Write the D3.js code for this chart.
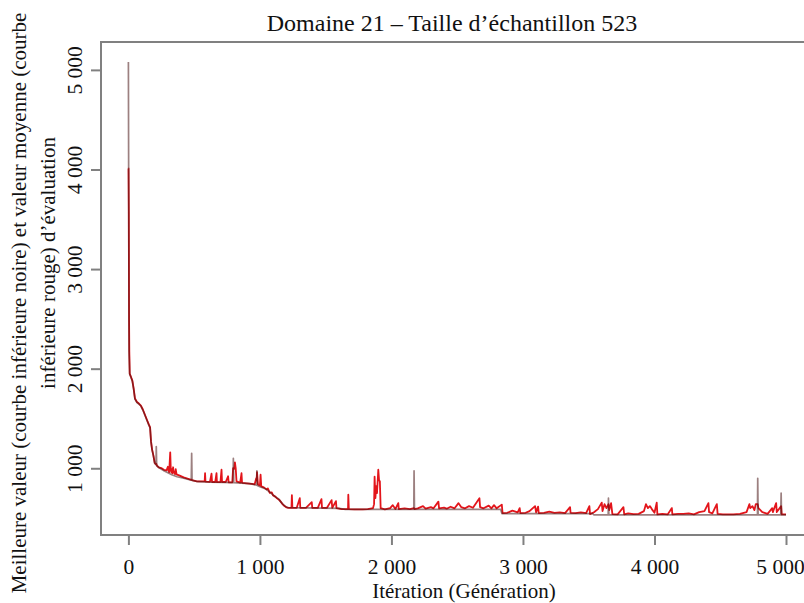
<!DOCTYPE html>
<html>
<head>
<meta charset="utf-8">
<script src="https://cdn.jsdelivr.net/npm/d3@7"></script>
<style>
  html, body { margin: 0; padding: 0; background: #fff; }
  svg text { font-family: "Liberation Serif", "Times New Roman", serif; fill: #111; }
</style>
</head>
<body>
<script>
// Iteration ticks and evaluation ticks
const xTicks = [0, 1000, 2000, 3000, 4000, 5000];
const yTicks = [1000, 2000, 3000, 4000, 5000];

// Best evaluation per generation (lower black curve)
const bestIter = [0, 5, 10, 20, 30, 40, 50, 65, 80, 95, 110, 125, 140, 155, 165, 172, 180, 190, 200, 210, 212, 215,
  240, 270, 300, 330, 370, 420, 478, 481, 484, 530, 620, 720, 796, 798, 801, 860, 920, 960, 975, 977, 980,
  1000, 1040, 1080, 1110, 1140, 1170, 1190, 1210, 1600, 1650, 2170, 2172, 2175, 2830, 2840, 3530, 3540,
  3648, 3650, 3653, 4783, 4785, 4788, 4960, 4963, 4966, 5000];
const bestVal = [5080, 2170, 1945, 1912, 1875, 1795, 1695, 1660, 1645, 1625, 1585, 1535, 1485, 1435, 1405, 1265, 1185, 1125, 1050, 1035, 1218, 1025,
  1000, 975, 955, 935, 915, 900, 880, 1150, 878, 865, 860, 858, 855, 1100, 855, 850, 845, 835, 830, 975, 828,
  815, 795, 755, 720, 695, 645, 620, 605, 598, 588, 588, 975, 588, 588, 545, 545, 532,
  532, 700, 532, 532, 900, 532, 532, 750, 532, 532];

// Mean evaluation per generation (lower red curve)
const meanIter = [0, 1, 3, 5, 7, 10, 20, 30, 40, 50, 65, 80, 95, 110, 125, 140, 155, 165, 172, 180, 190, 200,
  208, 212, 216, 230, 250, 270, 290, 300, 305, 310, 318, 322, 326, 330, 335, 340, 345, 350, 355, 360, 365, 370, 390, 420, 450,
  478, 481, 484, 520, 560, 580, 583, 586, 620, 632, 636, 660, 670, 673, 700, 708, 712, 740, 758, 762, 790,
  796, 800, 805, 810, 816, 822, 850, 860, 864, 900, 940, 960, 972, 975, 978, 985, 1000, 1005, 1010,
  1030, 1050, 1060, 1075, 1090, 1100, 1115, 1130, 1150, 1170, 1185, 1200, 1220, 1240, 1243, 1247, 1280,
  1303, 1307, 1350, 1394, 1398, 1440, 1468, 1472, 1510, 1545, 1550, 1578, 1582, 1620, 1670, 1672, 1676,
  1720, 1780, 1820, 1860, 1868, 1872, 1878, 1884, 1890, 1895, 1900, 1906, 1912, 1918, 1950, 1990, 2010,
  2030, 2052, 2056, 2100, 2140, 2172, 2175, 2200, 2240, 2260, 2300, 2320, 2357, 2362, 2400, 2420, 2450,
  2480, 2510, 2530, 2560, 2590, 2620, 2669, 2674, 2700, 2740, 2760, 2780, 2800, 2839, 2845, 2880, 2920,
  2960, 2975, 2980, 3020, 3050, 3092, 3100, 3115, 3120, 3160, 3200, 3240, 3280, 3320, 3358, 3362, 3400,
  3440, 3480, 3505, 3510, 3540, 3570, 3599, 3605, 3620, 3635, 3650, 3656, 3670, 3680, 3720, 3764, 3770,
  3800, 3840, 3880, 3920, 3935, 3950, 3965, 3980, 4000, 4017, 4022, 4060, 4100, 4132, 4136, 4180, 4220,
  4260, 4300, 4340, 4380, 4410, 4415, 4440, 4474, 4480, 4520, 4560, 4600, 4650, 4700, 4722, 4728, 4745,
  4760, 4770, 4785, 4790, 4820, 4860, 4895, 4900, 4925, 4930, 4963, 4967, 5000];
const meanVal = [4010, 4010, 3580, 2500, 2170, 1950, 1916, 1880, 1800, 1700, 1665, 1650, 1630, 1590, 1540, 1490, 1440, 1410, 1270, 1190, 1130, 1055,
  1040, 1045, 1030, 1010, 1002, 985, 980, 1015, 975, 960, 1160, 1000, 960, 990, 950, 1010, 955, 965, 940, 990, 945, 936, 926, 908, 895,
  884, 886, 880, 869, 868, 868, 950, 866, 863, 945, 862, 862, 950, 860, 862, 985, 862, 862, 920, 859, 859,
  1000, 990, 1000, 1060, 1000, 868, 856, 950, 854, 849, 844, 839, 900, 880, 960, 838, 828, 935, 818,
  808, 788, 798, 753, 758, 728, 718, 698, 678, 643, 623, 608, 603, 603, 730, 603, 603,
  700, 603, 603, 660, 603, 603, 690, 603, 603, 680, 603, 670, 600, 590, 590, 735, 590,
  588, 588, 590, 600, 640, 915, 700, 820, 750, 860, 985, 880, 870, 600, 588, 600, 630,
  590, 650, 590, 598, 590, 600, 590, 598, 620, 594, 610, 598, 665, 598, 604, 594, 614,
  598, 650, 610, 598, 620, 604, 700, 610, 598, 625, 598, 630, 598, 635, 549, 553, 575,
  558, 600, 549, 553, 570, 620, 558, 615, 549, 553, 565, 553, 558, 549, 610, 553, 549,
  558, 549, 620, 540, 558, 590, 655, 570, 640, 600, 640, 580, 650, 540, 537, 610, 537,
  548, 540, 542, 570, 640, 600, 620, 590, 553, 655, 537, 542, 537, 600, 537, 542, 542,
  548, 537, 560, 570, 650, 560, 548, 640, 542, 537, 537, 537, 542, 560, 640, 600, 620,
  580, 640, 640, 600, 560, 542, 600, 560, 650, 560, 620, 537, 537];

const W = 804, H = 603;
const plot = { left: 101, top: 42, right: 812, bottom: 535 };

const svg = d3.select("body").append("svg")
  .attr("width", W).attr("height", H);

const x = d3.scaleLinear().domain([0, 5000]).range([128.4, 786]);
const y = d3.scaleLinear().domain([330, 5280]).range([plot.bottom, plot.top]);

const fmt = v => d3.format(",")(v).replace(/,/g, "\u00a0");

const best = bestIter.map((it, i) => [it, bestVal[i]]);
const mean = meanIter.map((it, i) => [it, meanVal[i]]);
const line = d3.line().x(d => x(d[0])).y(d => y(d[1]));

// Mean curve (red)
svg.append("path").datum(mean)
  .attr("d", line)
  .attr("fill", "none")
  .attr("stroke", "#e3151b")
  .attr("stroke-width", 1.8)
  .attr("stroke-linejoin", "round");

// Best curve (black, translucent so the mean shows through)
svg.append("path").datum(best)
  .attr("d", line)
  .attr("fill", "none")
  .attr("stroke", "#4a1818")
  .attr("stroke-opacity", 0.55)
  .attr("stroke-width", 1.7)
  .attr("stroke-linejoin", "round");

// Plot frame
svg.append("rect")
  .attr("x", plot.left).attr("y", plot.top)
  .attr("width", plot.right - plot.left).attr("height", plot.bottom - plot.top)
  .attr("fill", "none").attr("stroke", "#808080").attr("stroke-width", 2);

// Bottom axis
const xAxis = svg.append("g")
  .attr("transform", `translate(0,${plot.bottom})`)
  .call(d3.axisBottom(x).tickValues(xTicks).tickSize(10).tickPadding(22).tickFormat(fmt));
xAxis.select(".domain").remove();
xAxis.selectAll(".tick line").attr("stroke", "#808080").attr("stroke-width", 2);
xAxis.selectAll(".tick text").attr("font-size", 21.5).attr("fill", "#111")
  .style("font-family", "'Liberation Serif', serif")
  .attr("dy", "0.33em")
  .attr("dx", d => d === 5000 ? -6 : 0);

// Left axis
const yAxis = svg.append("g")
  .attr("transform", `translate(${plot.left},0)`)
  .call(d3.axisLeft(y).tickValues(yTicks).tickSize(10).tickFormat(fmt));
yAxis.select(".domain").remove();
yAxis.selectAll(".tick line").attr("stroke", "#808080").attr("stroke-width", 2);
yAxis.selectAll(".tick text")
  .attr("font-size", 21.5).attr("fill", "#111")
  .style("font-family", "'Liberation Serif', serif")
  .attr("x", null).attr("dy", null)
  .attr("text-anchor", "middle")
  .attr("transform", "translate(-19,0) rotate(-90)");

// Title
svg.append("text")
  .attr("x", 452).attr("y", 31)
  .attr("text-anchor", "middle").attr("font-size", 24)
  .text("Domaine 21 \u2013 Taille d\u2019échantillon 523");

// X title
svg.append("text")
  .attr("x", 464).attr("y", 598)
  .attr("text-anchor", "middle").attr("font-size", 21)
  .text("Itération (Génération)");

// Y title, two lines
svg.append("text")
  .attr("transform", "translate(26,303) rotate(-90)")
  .attr("text-anchor", "middle").attr("font-size", 21)
  .text("Meilleure valeur (courbe inférieure noire) et valeur moyenne (courbe");
svg.append("text")
  .attr("transform", "translate(55,263) rotate(-90)")
  .attr("text-anchor", "middle").attr("font-size", 21)
  .text("inférieure rouge) d\u2019évaluation");
</script>
</body>
</html>
